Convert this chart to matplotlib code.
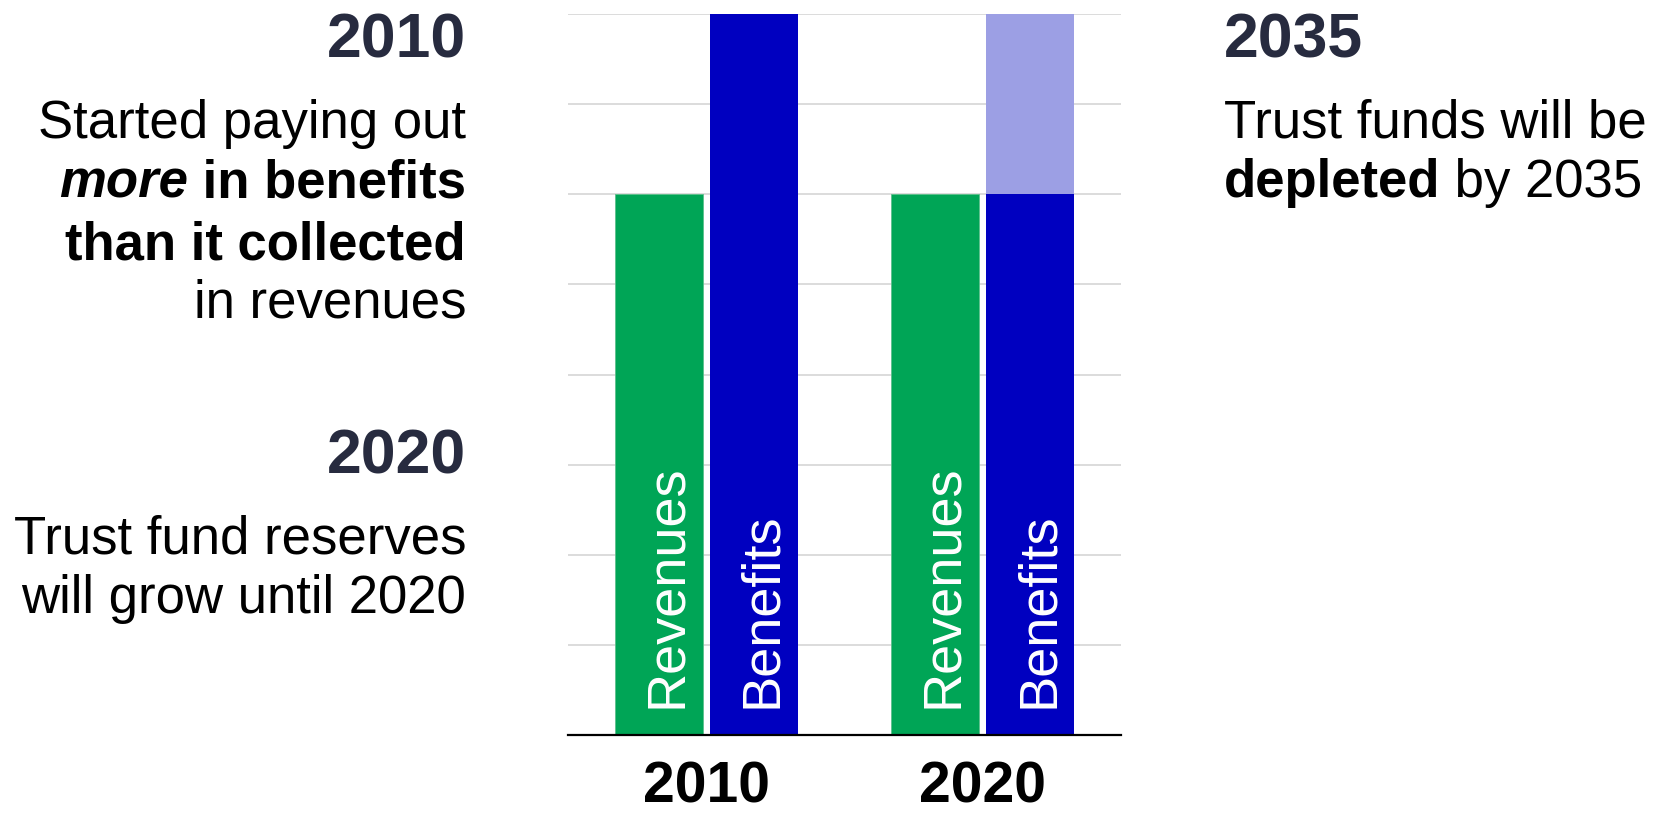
import matplotlib
matplotlib.use("Agg")
import matplotlib.pyplot as plt
import numpy as np

W, H = 1662, 816
DPI = 100

# ---- data ----
years = ["2010", "2020"]
revenues = [6, 6]
benefits_covered = [8, 6]
benefits_from_reserves = [0, 2]
bar_labels = ["Revenues", "Benefits"]

GREEN = "#00a556"
BLUE = "#0000c0"
LIGHT = "#9c9fe4"
NAVY = "#272b3f"
GRID = "#dcdcdc"

plt.rcParams['font.family'] = ['Liberation Sans', 'DejaVu Sans']

fig = plt.figure(figsize=(W / DPI, H / DPI), dpi=DPI)
ax_l, ax_r, ax_t, ax_b = 568, 1121, 14, 735
ax = fig.add_axes([ax_l / W, 1 - ax_b / H, (ax_r - ax_l) / W, (ax_b - ax_t) / H])

x = np.arange(len(years))
bw = 0.318
off = 0.1725
ax.bar(x - off, revenues, bw, color=GREEN, edgecolor='#5cc08c', linewidth=0.6, zorder=3)
ax.bar(x + off, benefits_covered, bw, color=BLUE, linewidth=0, zorder=3)
ax.bar(x + off, benefits_from_reserves, bw, bottom=benefits_covered, color=LIGHT,
       linewidth=0, zorder=3)

ax.set_xlim(-0.5, 1.5)
ax.set_ylim(0, 8)
ax.set_yticks(np.arange(0, 9))
ax.yaxis.grid(True, color=GRID, linewidth=1.4, zorder=0)
ax.set_axisbelow(True)
ax.tick_params(axis='y', length=0, labelleft=False)
for s in ['top', 'right', 'left']:
    ax.spines[s].set_visible(False)
ax.spines['bottom'].set_color('black')
ax.spines['bottom'].set_linewidth(1.6)
ax.spines['bottom'].set_zorder(4)

ax.set_xticks(x)
ax.set_xticklabels(years, fontsize=41, fontweight='bold', color='black')
ax.tick_params(axis='x', length=0, pad=18.5)

# rotated labels inside bars
for i in range(len(years)):
    for j, lab in enumerate(bar_labels):
        xc = x[i] + (-off if j == 0 else off)
        ax.annotate(lab, xy=(xc, 0), xycoords='data', xytext=(16, 19.5),
                    textcoords='offset points', rotation=90, rotation_mode='anchor',
                    ha='left', va='baseline', color='white', fontsize=39, zorder=5)

renderer = fig.canvas.get_renderer()


def text_line(x_px, y_px, segments, ha, size=38, color='black'):
    if ha == 'right':
        cur = x_px
        for seg, weight, style in reversed(segments):
            t = fig.text(cur / W, 1 - y_px / H, seg, ha='right', va='baseline',
                         fontsize=size, fontweight=weight, fontstyle=style, color=color)
            cur -= t.get_window_extent(renderer).width
    else:
        cur = x_px
        for seg, weight, style in segments:
            t = fig.text(cur / W, 1 - y_px / H, seg, ha='left', va='baseline',
                         fontsize=size, fontweight=weight, fontstyle=style, color=color)
            cur += t.get_window_extent(renderer).width


LX = 466
text_line(LX, 58, [("2010", 'bold', 'normal')], 'right', size=45, color=NAVY)
text_line(LX, 138, [("Started paying out", 'normal', 'normal')], 'right')
text_line(LX, 198, [("more", 'bold', 'italic'), (" in benefits", 'bold', 'normal')], 'right')
text_line(LX, 259, [("than it collected", 'bold', 'normal')], 'right')
text_line(LX, 318, [("in revenues", 'normal', 'normal')], 'right')
text_line(LX, 473, [("2020", 'bold', 'normal')], 'right', size=45, color=NAVY)
text_line(LX, 554, [("Trust fund reserves", 'normal', 'normal')], 'right')
text_line(LX, 613, [("will grow until 2020", 'normal', 'normal')], 'right')

RX = 1224
text_line(RX, 57, [("2035", 'bold', 'normal')], 'left', size=45, color=NAVY)
text_line(RX, 138, [("Trust funds will be", 'normal', 'normal')], 'left')
text_line(RX, 197, [("depleted", 'bold', 'normal'), (" by 2035", 'normal', 'normal')], 'left')

fig.savefig("out.png", dpi=DPI, facecolor='white')
